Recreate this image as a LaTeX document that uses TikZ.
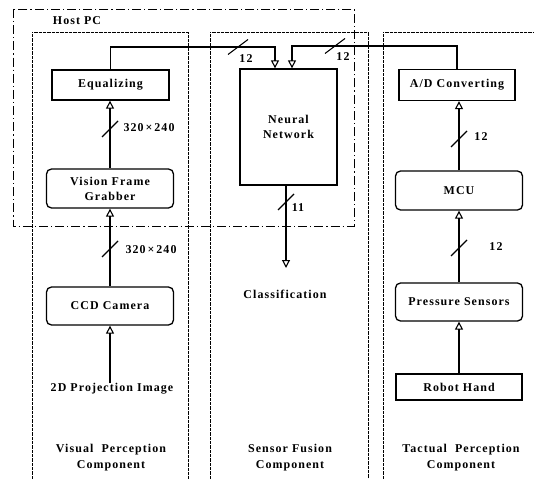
\documentclass[tikz,border=0pt]{standalone}
\usepackage{fontspec}
\setmainfont{Liberation Serif}[LetterSpace=9]
\usetikzlibrary{arrows.meta,calc}
\begin{document}
\begin{tikzpicture}[x=1bp,y=-1bp,
  every node/.style={font=\fontsize{12}{16}\selectfont\bfseries, inner sep=0pt, align=center},
  sqbox/.style={draw, line width=1.3pt},
  rbox/.style={draw, line width=1.3pt, rounded corners=5bp},
  arr/.style={line width=1.2pt, -{Triangle[open,length=8bp,width=8bp,line width=1.1pt]}},
  slashst/.style={line width=1.1pt},
  colbox/.style={line width=0.7pt, dash pattern=on 0.7bp off 0.6bp},
  hostbox/.style={line width=0.9pt, dash pattern=on 9bp off 3bp on 1.2bp off 3bp}]
\useasboundingbox (0,0) rectangle (534,479);

% component columns
\draw[colbox] (32,479) -- (32,32) -- (188,32) -- (188,479);
\draw[colbox] (210,479) -- (210,32) -- (368,32) -- (368,479);
\draw[colbox] (383,479) -- (383,32) -- (534,32);
% Host PC
\draw[hostbox] (13,9) rectangle (354,226);
\node (host) at (77,21) {Host PC};

% nodes
\node[sqbox, minimum width=117bp, minimum height=30bp] (eq) at (110.5,85) {Equalizing};
\node[rbox, minimum width=127bp, minimum height=39bp] (vfg) at (110,188.5) {Vision Frame\\[-1bp]Grabber};
\node[rbox, minimum width=127bp, minimum height=38bp] (ccd) at (110,306) {CCD Camera};
\node (proj) at (112,389) {2D Projection Image};

\node[sqbox, minimum width=97bp, minimum height=116bp] (nn) at (288.5,127) {Neural\\[-1bp]Network};
\node (cls) at (285,294) {Classification};

\node[sqbox, minimum width=116bp, minimum height=31bp] (ad) at (457,85) {A/D Converting};
\node[rbox, minimum width=127bp, minimum height=39bp] (mcu) at (459,190.5) {MCU};
\node[rbox, minimum width=127bp, minimum height=38bp] (ps) at (459,302) {Pressure Sensors};
\node[sqbox, minimum width=126bp, minimum height=26bp] (rh) at (459,387) {Robot Hand};

\node (c1) at (111,458) {Visual\ \ Perception\\Component};
\node (c2) at (290,458) {Sensor Fusion\\Component};
\node (c3) at (461,458) {Tactual\ \ Perception\\Component};

% connectors
\coordinate (busL) at (275,47);
\coordinate (busR) at (292,46);
\draw[arr] (eq.north) |- (busL) -- (busL |- nn.north);
\draw[arr] (ad.north) |- (busR) -- (busR |- nn.north);
\draw[arr] (vfg.north) -- (vfg.north |- eq.south);
\draw[arr] (ccd.north) -- (ccd.north |- vfg.south);
\draw[arr] (ccd.south |- proj.north) -- (ccd.south);
\coordinate (nnout) at (286,268);
\draw[arr] (nnout |- nn.south) -- (nnout);
\draw[arr] (mcu.north) -- (mcu.north |- ad.south);
\draw[arr] (ps.north) -- (ps.north |- mcu.south);
\draw[arr] (rh.north) -- (rh.north |- ps.south);

% bus-width slashes
\foreach \p in {(110,129),(110,249),(286,202),(459,139),(459,248)}{
  \draw[slashst] \p ++(-8,8) -- ++(16,-16);}
\foreach \p in {(238,47),(335,46)}{
  \draw[slashst] \p ++(-10,7.5) -- ++(20,-15);}

% labels
\node (l1) at (149,128) {320\,×\,240};
\node (l2) at (151,250) {320\,×\,240};
\node (l3) at (246,59) {12};
\node (l4) at (343,57) {12};
\node (l5) at (298,208) {11};
\node (l6) at (481,137) {12};
\node (l7) at (496,247) {12};
\end{tikzpicture}
\end{document}
